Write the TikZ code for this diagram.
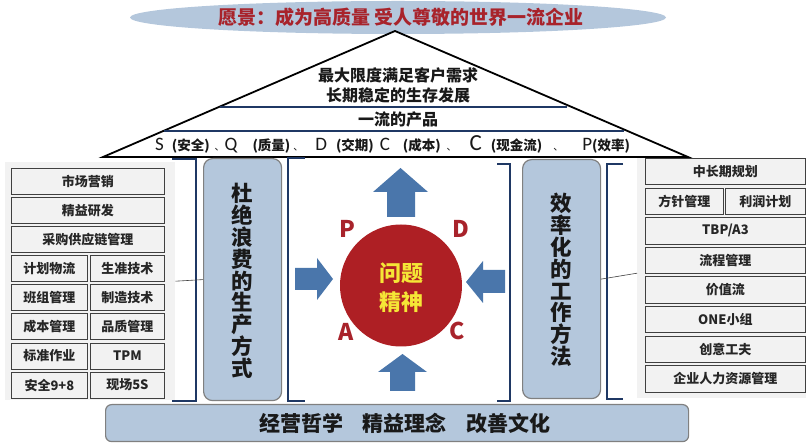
\documentclass[tikz,border=0pt]{standalone}
\usepackage{fontspec}
\setmainfont{Noto Sans CJK SC}
\newfontfamily\lat{Carlito}
\usetikzlibrary{shapes.geometric}
\definecolor{paleblue}{HTML}{B4C7DC}
\definecolor{navy}{HTML}{1F3864}
\definecolor{darkred}{HTML}{A8232B}
\definecolor{circred}{HTML}{AE1F24}
\definecolor{arrowblue}{HTML}{4A76AB}
\definecolor{panelgray}{HTML}{F2F2F2}
\definecolor{yel}{HTML}{F5E636}
\definecolor{boxline}{HTML}{404040}
\definecolor{pillarline}{HTML}{808080}
\newcommand\itembox[6]{\node[item, minimum width=#4pt, minimum height=#5pt, anchor=north west] (#1) at (#2,#3) {#6};}
\newcommand\pz[1]{{\fontsize{13.5}{14}\selectfont\bfseries (#1)}}
\newcommand\lt[1]{{\lat\fontsize{19}{19}\selectfont #1}}
\begin{document}
\begin{tikzpicture}[x=1pt,y=-1pt,
  item/.style={draw=boxline, line width=0.8pt, fill=panelgray, inner sep=0pt,
    font=\fontsize{13}{13}\selectfont\bfseries, text=black!85},
  pillar/.style={draw=pillarline, line width=1.2pt, fill=paleblue, rounded corners=9pt, inner sep=0pt},
  brk/.style={draw=navy, line width=2.2pt},
  roofline/.style={draw=navy, line width=2pt},
  pdca/.style={text=darkred, font=\fontsize{23}{23}\selectfont\bfseries},
  bigtext/.style={font=\fontsize{21.5}{21.8}\selectfont\bfseries, align=center, text=black!90},
  rooftext/.style={font=\fontsize{16}{20}\selectfont\bfseries, align=center, text=black!90},
  link/.style={draw=black!75, line width=0.6pt},
]
\useasboundingbox (0,0) rectangle (806,443);

% vision
\node[ellipse, fill=paleblue, minimum width=536pt, minimum height=33pt, inner sep=0pt] (vision) at (398,17.5) {};
\node[font=\fontsize{19}{19}\selectfont\bfseries, text=darkred] (visiontext) at (401,17.5) {愿景：成为高质量 受人尊敬的世界一流企业};

% roof
\coordinate (apex) at (395,31);
\coordinate (rl) at (103,157);
\coordinate (rr) at (688,157);
\draw[line width=1.8pt, fill=white] (rl) -- (apex) -- (rr) -- cycle;
\draw[roofline] (220,107) -- (567,107);
\draw[roofline] (164,131) -- (624,131);
\node[rooftext] (goal) at (398,85) {最大限度满足客户需求\\长期稳定的生存发展};
\node[rooftext] (product) at (398,119.5) {一流的产品};
\node[inner sep=0pt, text=black!90, anchor=base west] (sqdcp) at (155,151) {\lt{S}\hspace{8pt}\pz{安全}\hspace{5pt}、\lt{Q}\hspace{15pt}\pz{质量}\hspace{3pt}、\hspace{12pt}\lt{D}\hspace{9pt}\pz{交期}\hspace{6pt}\lt{C}\hspace{13pt}\pz{成本}\hspace{6pt}、\hspace{13pt}{\lat\fontsize{23}{23}\selectfont C}\hspace{9pt}\pz{现金流}\hspace{11pt}、\hspace{19pt}\lt{P}\pz{效率}};

% left panel
\node[fill=panelgray, anchor=north west, minimum width=170pt, minimum height=238pt, inner sep=0pt] (lpanel) at (5,162) {};
\itembox{l1}{11}{168}{153}{26}{市场营销}
\itembox{l2}{11}{197.1}{153}{26}{精益研发}
\itembox{l3}{11}{226.2}{153}{26}{采购供应链管理}
\itembox{l4a}{11}{255.3}{76}{26}{计划物流}
\itembox{l4b}{90}{255.3}{74}{26}{生准技术}
\itembox{l5a}{11}{284.4}{76}{26}{班组管理}
\itembox{l5b}{90}{284.4}{74}{26}{制造技术}
\itembox{l6a}{11}{313.5}{76}{26}{成本管理}
\itembox{l6b}{90}{313.5}{74}{26}{品质管理}
\itembox{l7a}{11}{342.6}{76}{26}{标准作业}
\itembox{l7b}{90}{342.6}{74}{26}{TPM}
\itembox{l8a}{11}{371.7}{76}{26}{安全9+8}
\itembox{l8b}{90}{371.7}{74}{26}{现场5S}

% right panel
\node[fill=panelgray, anchor=north west, minimum width=169pt, minimum height=240pt, inner sep=0pt] (rpanel) at (637,158) {};
\itembox{r1}{645}{158}{160}{26.5}{中长期规划}
\itembox{r2a}{645}{187.6}{78}{26.5}{方针管理}
\itembox{r2b}{725}{187.6}{80}{26.5}{利润计划}
\itembox{r3}{645}{217.2}{160}{26.5}{TBP/A3}
\itembox{r4}{645}{246.8}{160}{26.5}{流程管理}
\itembox{r5}{645}{276.4}{160}{26.5}{价值流}
\itembox{r6}{645}{306}{160}{26.5}{ONE小组}
\itembox{r7}{645}{335.6}{160}{26.5}{创意工夫}
\itembox{r8}{645}{365.2}{160}{26.5}{企业人力资源管理}

% brackets
\draw[brk] (172,159) -- (196,159) -- (196,401) -- (172,401);
\draw[brk] (305,158) -- (288,158) -- (288,401) -- (305,401);
\draw[brk] (497,164) -- (510,164) -- (510,401) -- (497,401);
\draw[brk] (623,164) -- (607,164) -- (607,399) -- (623,399);

% pillars
\node[pillar, anchor=north west, minimum width=78pt, minimum height=242pt] (lpillar) at (203,158) {};
\node[bigtext] (lpillartext) at (242,281) {杜\\绝\\浪\\费\\的\\生\\产\\方\\式};
\node[pillar, anchor=north west, minimum width=78pt, minimum height=239pt] (rpillar) at (522,159) {};
\node[bigtext] (rpillartext) at (561,280) {效\\率\\化\\的\\工\\作\\方\\法};

% links
\draw[link] (lpanel.east) -- (lpillar.west);
\draw[link] (rpillar.east) -- ([yshift=5pt]rpanel.west);

% core
\node[circle, fill=circred, minimum size=122pt, inner sep=0pt] (core) at (401,285.5) {};
\node[font=\fontsize{22}{29}\selectfont\bfseries, text=yel, align=center] (coretext) at (401,287.5) {问题\\精神};
\fill[arrowblue] (387,217) -- (387,192) -- (373,192) -- (400.5,168) -- (428,192) -- (415,192) -- (415,217) -- cycle;
\fill[arrowblue] (390,391) -- (390,372) -- (378,372) -- (402.5,354) -- (427,372) -- (415,372) -- (415,391) -- cycle;
\fill[arrowblue] (295,268) -- (317,268) -- (317,258) -- (333,279) -- (317,300) -- (317,290) -- (295,290) -- cycle;
\fill[arrowblue] (505,270) -- (483,270) -- (483,261) -- (466,282) -- (483,303) -- (483,293) -- (505,293) -- cycle;
\node[pdca] (p) at (347,229) {P};
\node[pdca] (d) at (461,229) {D};
\node[pdca] (a) at (346,332) {A};
\node[pdca] (c) at (457,331) {C};

% base
\node[pillar, rounded corners=6pt, anchor=north west, minimum width=583pt, minimum height=37pt] (base) at (105,404) {};
\node[font=\fontsize{21}{21}\selectfont\bfseries, text=black!90] (basetext) at (405,423) {经营哲学\hspace{20pt}精益理念\hspace{20pt}改善文化};
\end{tikzpicture}
\end{document}
